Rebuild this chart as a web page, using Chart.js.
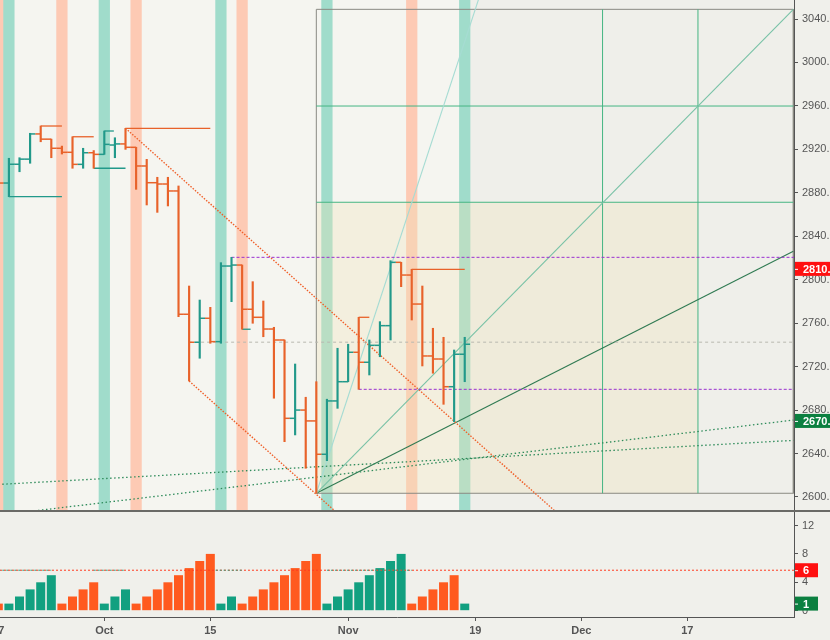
<!DOCTYPE html>
<html lang="en">
<head>
<meta charset="UTF-8" />
<title>OHLC with count</title>
<script src="https://cdn.jsdelivr.net/npm/chart.js@4.4.0/dist/chart.umd.min.js"></script>
<style>
  html, body { margin: 0; padding: 0; background: #f0f0eb; overflow: hidden; }
  #main { position: absolute; left: 0; top: 0; width: 830px; height: 510px; }
  #sep { position: absolute; left: 0; top: 510px; width: 830px; height: 2px; background: #6a6a66; }
  #sub { position: absolute; left: 0; top: 512px; width: 830px; height: 128px; }
</style>
</head>
<body>
<div id="main"><canvas id="chart"></canvas></div>
<div id="sep"></div>
<div id="sub"><canvas id="count"></canvas></div>
<script>
// trading-day index, 0 = Sep 17
var tickIdx = [0, 10, 20, 33, 45, 55, 65];
var tickText = ['17', 'Oct', '15', 'Nov', '19', 'Dec', '17'];
var priceTicks = [2600, 2640, 2680, 2720, 2760, 2800, 2840, 2880, 2920, 2960, 3000, 3040];
var countTicks = [0, 4, 8, 12];

var opens = [2895, 2889, 2906.3, 2911, 2934.2, 2929.4, 2921, 2917.3, 2906.2, 2916.9, 2915.4, 2924, 2925, 2921.9, 2904.7,
  2889.3, 2888.1, 2881.7, 2768.2, 2742.4, 2764.5, 2743, 2812.6, 2813.5, 2772.8, 2765.4, 2754.6, 2744.5, 2672.4, 2680,
  2670, 2639.3, 2688.4, 2706.1, 2733.2, 2724, 2739.6, 2757.7, 2816, 2804.3, 2777.6, 2729.8, 2727, 2701.5, 2731.4];
var highs = [2898, 2911.8, 2912.3, 2934.8, 2941.5, 2929.4, 2923, 2931.6, 2921, 2918.9, 2936.9, 2930.7, 2939.4, 2921.9, 2910.8,
  2894.3, 2894.3, 2886.3, 2794.2, 2781.3, 2774.6, 2815.7, 2820.6, 2813.5, 2798.2, 2780.4, 2756.2, 2744.5, 2722.4, 2691.8,
  2706.1, 2690, 2736.9, 2740.6, 2765.4, 2744.5, 2761.4, 2817.5, 2816, 2809.6, 2794.2, 2755.3, 2747, 2735.3, 2747];
var lows = [2884, 2876.4, 2899.4, 2907.2, 2927, 2912.3, 2915.7, 2902.6, 2902.6, 2902.6, 2915.4, 2912.3, 2920, 2883.2, 2868.8,
  2862, 2867.9, 2766, 2706.8, 2727.7, 2741.5, 2741.5, 2779.8, 2754.4, 2759.9, 2747.5, 2690.9, 2650.9, 2657.1, 2626.4,
  2603.4, 2633.4, 2681.6, 2706.1, 2699.1, 2712.3, 2729.1, 2744.5, 2793.6, 2762.9, 2720.6, 2713.9, 2685.3, 2669.3, 2706.1];
var closes = [2889, 2906.3, 2911, 2934.2, 2929.4, 2921, 2917.3, 2906.2, 2916.9, 2915.4, 2924.6, 2925, 2921.9, 2904.7, 2889.3,
  2888.1, 2881.7, 2768.2, 2742.4, 2764.5, 2743, 2812.6, 2813.5, 2772.8, 2765.4, 2754.6, 2744.5, 2672.4, 2680, 2670,
  2639.3, 2688.4, 2706.1, 2733.2, 2724, 2739.6, 2757.7, 2816, 2804.3, 2777.6, 2729.8, 2727, 2701.5, 2731.4, 2740.6];

var counts = [1, 1, 2, 3, 4, 5, 1, 2, 3, 4, 1, 2, 3, 1, 2, 3, 4, 5, 6, 7, 8, 1, 2, 1, 2, 3, 4, 5, 6, 7, 8,
  1, 2, 3, 4, 5, 6, 7, 8, 1, 2, 3, 4, 5, 1];
var countUp = [0, 1, 1, 1, 1, 1, 0, 0, 0, 0, 1, 1, 1, 0, 0, 0, 0, 0, 0, 0, 0, 1, 1, 0, 0, 0, 0, 0, 0, 0, 0,
  1, 1, 1, 1, 1, 1, 1, 1, 0, 0, 0, 0, 0, 1];
var countLine = 5.7;
var greenFrom = [0, 9, 20.5, 31];
var greenTo = [5, 12, 23, 39];

var bandIdx = [0, 1, 6, 10, 13, 21, 23, 31, 39, 44];
var bandUp = [0, 1, 0, 1, 0, 1, 0, 1, 0, 1];

// short support / resistance levels
var levelFrom = [1, 4, 7, 9, 10, 12, 23, 34, 39];
var levelTo = [6, 6, 9, 12, 10.9, 20, 23.8, 35, 44];
var levelPrice = [2876.4, 2941.5, 2931.6, 2902.6, 2936.9, 2939.4, 2754.4, 2765.4, 2809.6];
var levelUp = [1, 0, 0, 1, 1, 0, 1, 0, 0];

var purpleFrom = [22, 34];
var purplePrice = [2820.6, 2699.1];
var lastFrom = 18, lastPrice = 2742.5;

var chanFrom = [12, 18], chanFromPrice = [2939.4, 2706.8];
var chanTo = [52.5, 31.65], chanToPrice = [2587.1, 2588];

var trendFrom = [0, 0], trendFromPrice = [2611.5, 2583.2];
var trendTo = [75, 75], trendToPrice = [2652.1, 2670.8];

var boxFrom = 30, boxTo = 75, boxLow = 2603.4, boxHigh = 3048.9;
var gridIdx = [57, 66];
var gridPrice = [2871.3, 2959.9];
var fanToIdx = [45.3, 75, 75];
var fanToPrice = [3058, 3048.9, 2826.2];

var priceTags = [2810, 2670], priceTagText = ['2810.00', '2670.00'];
var countTags = [countLine, 1], countTagText = ['6', '1'];

var xMin = 0.16, xMax = 75.06;
var yMin = 2588, yMax = 3057.5;

var teal = '#22998a', orange = '#e8622a';
var red = '#ff1010', green = '#0b8040';

Chart.defaults.font.family = 'Liberation Sans';

function seg(pts, color, width, dash, order) {
  return {
    type: 'scatter', data: pts, showLine: true, borderColor: color, borderWidth: width,
    borderDash: dash || [], pointRadius: 0, order: order
  };
}

// no label padding around the plot area
function noPad(s) {
  s.paddingTop = 0; s.paddingBottom = 0; s.paddingLeft = 0; s.paddingRight = 0;
}

var bgPlugin = {
  id: 'bg',
  beforeDraw: function (chart, args, opts) {
    var a = chart.chartArea, ctx = chart.ctx;
    var split = chart.scales.x.getPixelForValue(opts.split);
    ctx.save();
    ctx.fillStyle = opts.past;
    ctx.fillRect(a.left, a.top, split - a.left, a.bottom - a.top);
    ctx.fillStyle = opts.future;
    ctx.fillRect(split, a.top, a.right - split, a.bottom - a.top);
    ctx.restore();
  }
};

var tagPlugin = {
  id: 'tags',
  afterDraw: function (chart, args, opts) {
    var ctx = chart.ctx, ys = chart.scales.y, left = chart.chartArea.right + 1;
    opts.values.forEach(function (v, k) {
      var py = ys.getPixelForValue(v);
      ctx.save();
      ctx.fillStyle = opts.colors[k];
      ctx.fillRect(left, py - 7, opts.width, 14);
      ctx.strokeStyle = '#fff';
      ctx.lineWidth = 1;
      ctx.beginPath();
      ctx.moveTo(left, py + 0.5);
      ctx.lineTo(left + 3, py + 0.5);
      ctx.stroke();
      ctx.fillStyle = '#fff';
      ctx.font = 'bold 11px Liberation Sans';
      ctx.textBaseline = 'middle';
      ctx.fillText(opts.texts[k], left + 8, py + 1);
      ctx.restore();
    });
  }
};

var idx = opens.map(function (_, i) { return i; });
var barColor = idx.map(function (i) { return closes[i] >= opens[i] ? teal : orange; });

var ds = [];
ds.push({
  type: 'bar', grouped: false, order: 30,
  data: bandIdx.map(function (i) { return { x: i, y: [yMin, yMax] }; }),
  backgroundColor: bandUp.map(function (u) { return u ? '#a0dccb' : '#fdcab4'; }),
  barPercentage: 1, categoryPercentage: 1
});
ds.push({
  type: 'line', order: 25, pointRadius: 0, borderWidth: 0,
  data: [{ x: boxFrom, y: gridPrice[0] }, { x: gridIdx[1], y: gridPrice[0] }],
  fill: { value: boxLow }, backgroundColor: 'rgba(240,228,185,0.32)'
});
ds.push(seg([{ x: boxFrom, y: boxLow }, { x: boxFrom, y: boxHigh }, { x: boxTo, y: boxHigh },
  { x: boxTo, y: boxLow }, { x: boxFrom, y: boxLow }], '#8a8a82', 1, [], 20));
gridIdx.forEach(function (g) {
  ds.push(seg([{ x: g, y: boxLow }, { x: g, y: boxHigh }], '#45b583', 1, [], 19));
});
gridPrice.forEach(function (p) {
  ds.push(seg([{ x: boxFrom, y: p }, { x: boxTo, y: p }], '#45b583', 1, [], 19));
});
var fanColors = ['#a6dcd3', '#78c2a6', '#2f7a52'];
fanToIdx.forEach(function (f, k) {
  ds.push(seg([{ x: boxFrom, y: boxLow }, { x: f, y: fanToPrice[k] }], fanColors[k], 1.1, [], 18));
});
trendFrom.forEach(function (t, k) {
  ds.push(seg([{ x: t, y: trendFromPrice[k] }, { x: trendTo[k], y: trendToPrice[k] }], '#2e8b5a', 1.3, [1.5, 2.5], 17));
});
chanFrom.forEach(function (c, k) {
  ds.push(seg([{ x: c, y: chanFromPrice[k] }, { x: chanTo[k], y: chanToPrice[k] }], '#f0602a', 1.4, [1.5, 1.5], 16));
});
purpleFrom.forEach(function (p, k) {
  ds.push(seg([{ x: p, y: purplePrice[k] }, { x: xMax, y: purplePrice[k] }], '#9a30d0', 1, [3, 2], 15));
});
ds.push(seg([{ x: lastFrom, y: lastPrice }, { x: xMax, y: lastPrice }], '#b8b8b0', 1, [3, 3], 15));
levelFrom.forEach(function (l, k) {
  ds.push(seg([{ x: l, y: levelPrice[k] }, { x: levelTo[k], y: levelPrice[k] }], levelUp[k] ? teal : orange, 1.3, [], 12));
});
ds.push({
  type: 'bar', grouped: false, order: 5, barThickness: 1.5,
  data: idx.map(function (i) { return { x: i, y: [lows[i], highs[i]] }; }),
  backgroundColor: barColor
});
ds.push({
  type: 'scatter', order: 5, pointStyle: 'line', pointRadius: 2.7, pointBorderWidth: 1.5,
  data: idx.map(function (i) { return { x: i - 0.25, y: opens[i] }; }),
  pointBorderColor: barColor
});
ds.push({
  type: 'scatter', order: 5, pointStyle: 'line', pointRadius: 2.7, pointBorderWidth: 1.5,
  data: idx.map(function (i) { return { x: i + 0.25, y: closes[i] }; }),
  pointBorderColor: barColor
});

function rightAxis(min, max, ticks, fmt) {
  return {
    position: 'right', min: min, max: max,
    afterBuildTicks: function (s) { s.ticks = ticks.map(function (v) { return { value: v }; }); },
    afterFit: function (s) { s.width = 36; noPad(s); },
    grid: { drawOnChartArea: false, tickLength: 4, color: '#555' },
    border: { color: '#555', width: 1 },
    ticks: { padding: 4, color: '#555', font: { size: 11 }, callback: fmt }
  };
}

new Chart(document.getElementById('chart'), {
  type: 'bar',
  data: { datasets: ds },
  plugins: [bgPlugin, tagPlugin],
  options: {
    responsive: true, maintainAspectRatio: false, animation: false, events: [],
    layout: { autoPadding: false, padding: 0 },
    plugins: {
      legend: { display: false }, tooltip: { enabled: false },
      bg: { split: opens.length - 0.5, past: '#f5f5f0', future: '#efefea' },
      tags: { values: priceTags, texts: priceTagText, colors: [red, green], width: 40 }
    },
    scales: {
      x: { type: 'linear', min: xMin, max: xMax, offset: false, display: false, afterFit: noPad },
      y: rightAxis(yMin, yMax, priceTicks, function (v) { return v.toFixed(2); })
    }
  }
});

var subDs = [];
subDs.push({
  type: 'bar', grouped: false, order: 5,
  data: counts.map(function (c, i) { return { x: i, y: c }; }),
  backgroundColor: countUp.map(function (u) { return u ? '#12a080' : '#ff5a1f'; }),
  barPercentage: 0.85, categoryPercentage: 1
});
subDs.push(seg([{ x: xMin, y: countLine }, { x: xMax, y: countLine }], '#ff3b1f', 1, [2, 2], 3));
greenFrom.forEach(function (g, k) {
  subDs.push(seg([{ x: g, y: countLine }, { x: greenTo[k], y: countLine }], '#3aa080', 1, [2, 2], 2));
});

new Chart(document.getElementById('count'), {
  type: 'bar',
  data: { datasets: subDs },
  plugins: [tagPlugin],
  options: {
    responsive: true, maintainAspectRatio: false, animation: false, events: [],
    layout: { autoPadding: false, padding: 0 },
    plugins: {
      legend: { display: false }, tooltip: { enabled: false },
      tags: { values: countTags, texts: countTagText, colors: [red, green], width: 23 }
    },
    scales: {
      x: {
        type: 'linear', min: xMin, max: xMax, offset: false,
        afterBuildTicks: function (s) { s.ticks = tickIdx.map(function (v) { return { value: v }; }); },
        afterFit: function (s) { s.height = 23; noPad(s); },
        grid: { drawOnChartArea: false, tickLength: 4, color: '#555', offset: false },
        border: { color: '#555', width: 1 },
        ticks: {
          autoSkip: false, maxRotation: 0, padding: 3, color: '#555',
          font: { size: 11, weight: 'bold' },
          callback: function (v) { var k = tickIdx.indexOf(v); return k < 0 ? '' : tickText[k]; }
        }
      },
      y: rightAxis(-0.887, 13.9, countTicks, function (v) { return String(v); })
    }
  }
});
</script>
</body>
</html>
